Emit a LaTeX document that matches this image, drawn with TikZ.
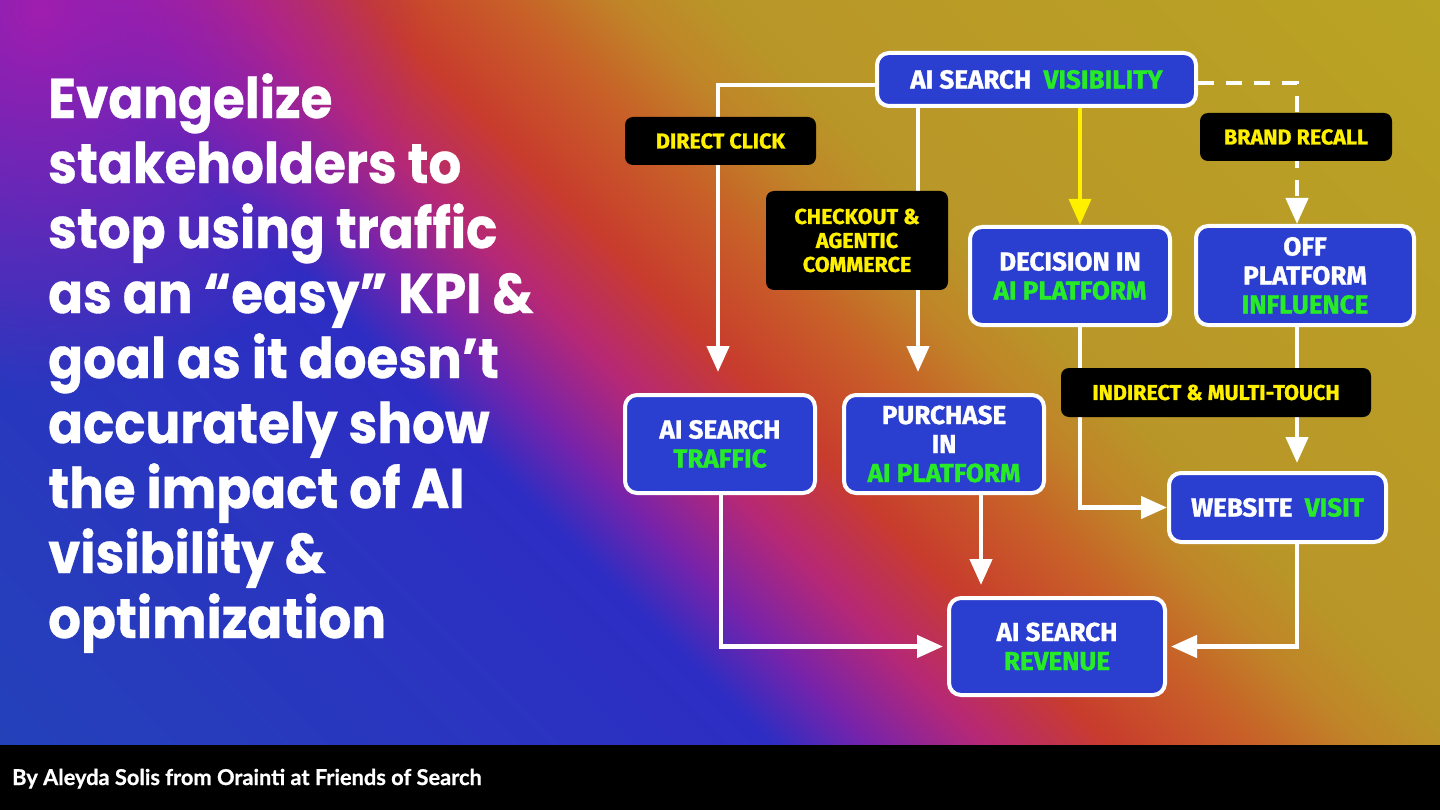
\documentclass[tikz,border=0pt]{standalone}
\usepackage{fontspec}
\usetikzlibrary{arrows.meta,fadings,calc}
\newfontfamily\titlefont{Poppins}[FakeStretch=0.92,FakeBold=0.6]
\newfontfamily\boxfont{Fira Sans}[FakeBold=1.2]
\newfontfamily\footfont{Lato}[FakeBold=0.8]
\definecolor{boxblue}{RGB}{42,62,208}
\definecolor{kgreen}{RGB}{40,235,40}
\definecolor{kyellow}{RGB}{255,240,0}
\definecolor{bgA}{RGB}{35,68,185}
\definecolor{bgB}{RGB}{45,45,195}
\definecolor{bgC}{RGB}{120,35,170}
\definecolor{bgD}{RGB}{182,40,118}
\definecolor{bgE}{RGB}{200,60,45}
\definecolor{bgE2}{RGB}{200,95,40}
\definecolor{bgF}{RGB}{192,132,40}
\definecolor{bgG}{RGB}{185,150,40}
\definecolor{bgH}{RGB}{185,165,35}
\definecolor{blobmag}{RGB}{160,30,175}
\pgfdeclarehorizontalshading{bgshade}{100bp}{color(0bp)=(bgA); color(25bp)=(bgA); color(43.9bp)=(bgB); color(46bp)=(bgC); color(48.4bp)=(bgD); color(51.1bp)=(bgE); color(54.1bp)=(bgE2); color(56.4bp)=(bgF); color(58.5bp)=(bgG); color(75bp)=(bgH); color(100bp)=(bgH)}
\tikzfading[name=blobfade, inner color=transparent!0, outer color=transparent!100]
\tikzset{
  bluebox/.style={draw=white, line width=4pt, fill=boxblue, rounded corners=12pt, align=center, text=white, font=\boxfont\bfseries\fontsize{26}{29}\selectfont, inner sep=0pt},
  blabel/.style={fill=black, rounded corners=8pt, align=center, text=kyellow, font=\boxfont\bfseries\fontsize{21.5}{24}\selectfont, inner sep=0pt},
  conn/.style={draw=white, line width=4.5pt},
  arr/.style={-{Triangle[length=26pt,width=22pt]}},
}
\begin{document}
\begin{tikzpicture}[x=1pt,y=-1pt]
\useasboundingbox (0,0) rectangle (1440,810);
% background
\begin{scope}
\clip (0,0) rectangle (1440,810);
\begin{scope}[transform canvas={rotate around={45:(720,405)}}]
\shade[shading=bgshade] (-110,-425) rectangle (1550,1235);
\end{scope}
\fill[blobmag, path fading=blobfade] (40,10) circle (380);
\end{scope}
\fill[black] (0,745) rectangle (1440,810);

% title
\node[anchor=north west, inner sep=0pt, align=left, text=white, font=\titlefont\bfseries\fontsize{56}{65}\selectfont] (title) at (48,73)
{Evangelize\\stakeholders to\\stop using traffic\\as an “easy” KPI \&\\goal as it doesn’t\\accurately show\\the impact of AI\\visibility \&\\optimization};

% footer
\node[anchor=base west, inner sep=0pt, text=white, font=\footfont\bfseries\fontsize{21.8}{24}\selectfont] (foot) at (12,785) {By Aleyda Solis from Orainti at Friends of Search};

% boxes
\node[bluebox, minimum width=319pt, minimum height=53pt] (vis) at (1036.5,79.5) {AI SEARCH\ \ \textcolor{kgreen}{VISIBILITY}};
\node[bluebox, minimum width=190pt, minimum height=98pt] (traffic) at (720,444) {AI SEARCH\\\textcolor{kgreen}{TRAFFIC}};
\node[bluebox, minimum width=200pt, minimum height=98pt] (purchase) at (944,444) {PURCHASE\\IN\\\textcolor{kgreen}{AI PLATFORM}};
\node[bluebox, minimum width=200pt, minimum height=98pt] (decision) at (1070,276) {DECISION IN\\\textcolor{kgreen}{AI PLATFORM}};
\node[bluebox, minimum width=218pt, minimum height=99pt] (offplat) at (1305,275.5) {OFF\\PLATFORM\\\textcolor{kgreen}{INFLUENCE}};
\node[bluebox, minimum width=217pt, minimum height=69pt] (website) at (1277.5,507.5) {WEBSITE\ \ \textcolor{kgreen}{VISIT}};
\node[bluebox, minimum width=216pt, minimum height=97pt] (revenue) at (1057,646.5) {AI SEARCH\\\textcolor{kgreen}{REVENUE}};

% connector columns
\coordinate (xdc) at (718,85);
\coordinate (xck) at (918,0);
\coordinate (xdec) at (1080,0);
\coordinate (xbr) at (1297,83);
\coordinate (xtr) at (721,0);
\coordinate (xpu) at (981,0);

\draw[conn,arr,shorten >=21pt] (xdc -| vis.west) -- (xdc) -- (xdc |- traffic.north);
\draw[conn,arr,shorten >=21pt] (vis.south -| xck) -- (purchase.north -| xck);
\draw[conn,draw=kyellow,line width=3.5pt,-{Triangle[length=26pt,width=22pt]}] (vis.south -| xdec) -- (decision.north -| xdec);
\draw[conn,arr,dash pattern=on 16pt off 12pt] (xbr -| vis.east) -- (xbr) -- (xbr |- offplat.north);
\draw[conn,arr] (decision.south -| xdec) |- (website.west);
\draw[conn,arr,shorten >=8pt] (offplat.south -| xbr) -- (website.north -| xbr);
\draw[conn,arr,shorten >=4pt] (traffic.south -| xtr) |- (revenue.west);
\draw[conn,arr,shorten >=11pt] (purchase.south -| xpu) -- (revenue.north -| xpu);
\draw[conn,arr,shorten >=4pt] (website.south -| xbr) |- (revenue.east);

% labels
\node[blabel, minimum width=191pt, minimum height=48pt] (direct) at (720.5,141) {DIRECT CLICK};
\node[blabel, minimum width=182pt, minimum height=99pt] (checkout) at (857,240.5) {CHECKOUT \&\\AGENTIC\\COMMERCE};
\node[blabel, minimum width=192pt, minimum height=48pt] (brand) at (1296,137) {BRAND RECALL};
\node[blabel, minimum width=310pt, minimum height=49pt] (indirect) at (1216,392.5) {INDIRECT \& MULTI-TOUCH};
\end{tikzpicture}
\end{document}
